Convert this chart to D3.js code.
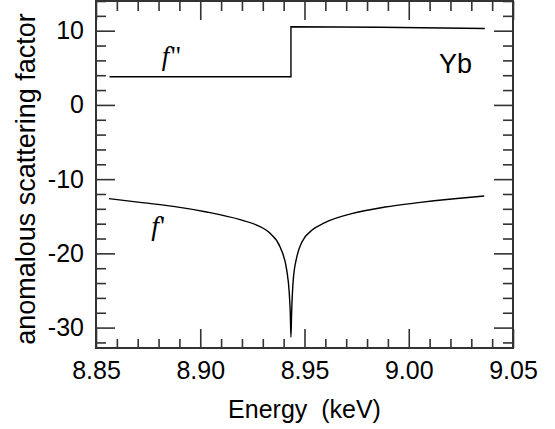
<!DOCTYPE html>
<html>
<head>
<meta charset="utf-8">
<script src="https://cdn.jsdelivr.net/npm/d3@7"></script>
<style>
  body { margin: 0; background: #fff; }
  svg { display: block; }
  .tick text { font-family: "Liberation Sans", Arial, sans-serif; }
</style>
</head>
<body>
<div id="chart"></div>
<script>
const energyFp = [8.8562, 8.8711, 8.8871, 8.9031, 8.9191, 8.9271, 8.9335, 8.9383, 8.9415, 8.9427,
                  8.9432, 8.9435, 8.9438, 8.9446, 8.9463, 8.9487, 8.9535, 8.9598, 8.9726, 8.9886,
                  9.0046, 9.0206, 9.0362];
const fPrime = [-12.63, -13.13, -13.67, -14.43, -15.46, -16.2, -17.3, -19.15, -22.3, -25.4,
                -28.2, -31.3, -28.2, -23.6, -20.5, -18.5, -16.9, -15.86, -14.65, -13.76,
                -13.17, -12.68, -12.28];

// f'' (imaginary part), step at the absorption edge
const energyFpp = [8.8565, 8.9435, 8.9435, 8.9862, 9.0365];
const fDoublePrime = [3.80, 3.80, 10.54, 10.46, 10.30];

const xMajorTicks = [8.85, 8.90, 8.95, 9.00, 9.05];
const xTickLabels = ["8.85", "8.90", "8.95", "9.00", "9.05"];
const yMajorTicks = [-30, -20, -10, 0, 10];
const yTickLabels = ["-30", "-20", "-10", "0", "10"];

const width = 555, height = 429;
const margin = {left: 96, right: 42, top: 1, bottom: 81};
const plotW = width - margin.left - margin.right;
const plotH = height - margin.top - margin.bottom;

const svg = d3.select("#chart").append("svg")
    .attr("width", width)
    .attr("height", height);

const x = d3.scaleLinear().domain([8.85, 9.05]).range([0, plotW]);
const y = d3.scaleLinear().domain([-32.75, 14.0]).range([plotH, 0]);

const g = svg.append("g").attr("transform", `translate(${margin.left},${margin.top})`);

const xMinor = d3.range(8.85, 9.0501, 0.01).filter(v => !xMajorTicks.some(m => Math.abs(m - v) < 1e-6));
const yMinor = d3.range(-32, 14.01, 2).filter(v => v % 10 !== 0);

function styleAxis(sel) {
    sel.select(".domain").remove();
    sel.selectAll("line").attr("stroke", "#333").attr("stroke-width", 1.6);
    sel.selectAll("text").attr("font-size", 25).attr("fill", "#000");
}

// bottom
g.append("g").attr("transform", `translate(0,${plotH})`)
    .call(d3.axisBottom(x).tickValues(xMajorTicks).tickSize(-19).tickPadding(13)
        .tickFormat((d, i) => xTickLabels[i]))
    .call(styleAxis);
g.append("g").attr("transform", `translate(0,${plotH})`)
    .call(d3.axisBottom(x).tickValues(xMinor).tickSize(-9).tickFormat(""))
    .call(styleAxis);
// top
g.append("g")
    .call(d3.axisTop(x).tickValues(xMajorTicks).tickSize(-19).tickFormat(""))
    .call(styleAxis);
g.append("g")
    .call(d3.axisTop(x).tickValues(xMinor).tickSize(-10).tickFormat(""))
    .call(styleAxis);
// left
g.append("g")
    .call(d3.axisLeft(y).tickValues(yMajorTicks).tickSize(-19).tickPadding(12)
        .tickFormat((d, i) => yTickLabels[i]))
    .call(styleAxis);
g.append("g")
    .call(d3.axisLeft(y).tickValues(yMinor).tickSize(-10).tickFormat(""))
    .call(styleAxis);
// right
g.append("g").attr("transform", `translate(${plotW},0)`)
    .call(d3.axisRight(y).tickValues(yMajorTicks).tickSize(-19).tickFormat(""))
    .call(styleAxis);
g.append("g").attr("transform", `translate(${plotW},0)`)
    .call(d3.axisRight(y).tickValues(yMinor).tickSize(-10).tickFormat(""))
    .call(styleAxis);

// frame
g.append("rect")
    .attr("width", plotW).attr("height", plotH)
    .attr("fill", "none").attr("stroke", "#333").attr("stroke-width", 2);

const line = d3.line()
    .x(d => x(d[0]))
    .y(d => y(d[1]));

g.append("path")
    .datum(energyFp.map((e, i) => [e, fPrime[i]]))
    .attr("fill", "none").attr("stroke", "#000").attr("stroke-width", 1.4)
    .attr("d", line.curve(d3.curveMonotoneX));

g.append("path")
    .datum(energyFpp.map((e, i) => [e, fDoublePrime[i]]))
    .attr("fill", "none").attr("stroke", "#000").attr("stroke-width", 1.4)
    .attr("d", line.curve(d3.curveLinear));

// labels inside the plot: italic f with upright prime marks
function fLabel(xv, yv, size, marks) {
    const t = g.append("text")
        .attr("x", x(xv)).attr("y", y(yv))
        .attr("font-family", "'Liberation Serif', 'Times New Roman', serif")
        .attr("font-size", size);
    t.append("tspan").attr("font-style", "italic").text("f");
    t.append("tspan").attr("dx", 1).text(marks);
}
fLabel(8.8815, 5.4, 27, "\"");
fLabel(8.8765, -17.5, 28, "'");

g.append("text")
    .attr("x", x(9.0145)).attr("y", y(4.3))
    .attr("font-family", "'Liberation Sans', Arial, sans-serif")
    .attr("font-size", 27)
    .text("Yb");

// axis titles
svg.append("text")
    .attr("x", margin.left + plotW / 2).attr("y", 418)
    .attr("text-anchor", "middle")
    .attr("font-family", "'Liberation Sans', Arial, sans-serif")
    .attr("font-size", 25)
    .attr("xml:space", "preserve")
    .text("Energy  (keV)");
svg.append("text")
    .attr("transform", "translate(35,179) rotate(-90)")
    .attr("text-anchor", "middle")
    .attr("font-family", "'Liberation Sans', Arial, sans-serif")
    .attr("font-size", 27)
    .text("anomalous scattering factor");
</script>
</body>
</html>
